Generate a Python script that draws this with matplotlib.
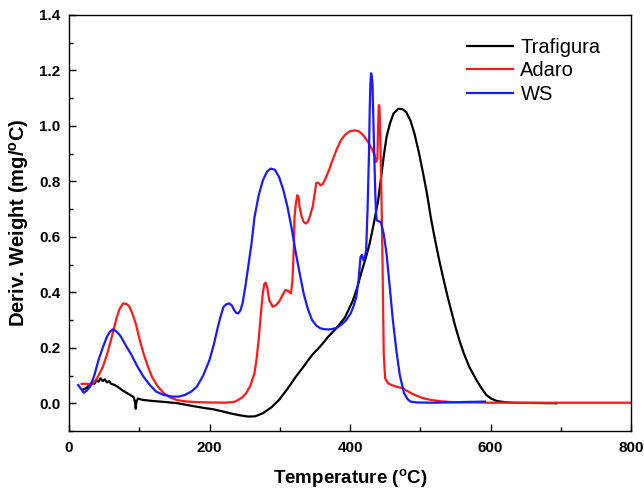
import matplotlib
matplotlib.use("Agg")
import matplotlib.pyplot as plt
from matplotlib.ticker import MultipleLocator, FormatStrFormatter

plt.rcParams['font.family'] = ['Liberation Sans', 'DejaVu Sans']
plt.rcParams['mathtext.fontset'] = 'custom'
plt.rcParams['mathtext.rm'] = 'Liberation Sans'
plt.rcParams['mathtext.bf'] = 'Liberation Sans:bold'

series_names = ["Trafigura", "Adaro", "WS"]
series_colors = ["#000000", "#ff1a1a", "#1a1aff"]

traf_x = [20, 25, 30, 33, 36, 39, 42, 45, 48, 51, 54, 57, 60, 65, 70, 77, 85, 92, 94, 95, 96, 98, 105, 120, 135,
          155, 176, 195, 206, 218, 229, 242, 255, 265, 276, 288, 299, 311, 323, 335, 346, 358, 369, 381, 393,
          404, 410, 416, 422, 428, 434, 440, 444, 448, 452, 457, 462, 469, 475, 480, 486, 492, 498, 504,
          510, 515, 521, 527, 533, 539, 545, 550, 556, 562, 570, 580, 587, 594, 601, 609, 620, 632, 660, 694]
traf_y = [0.050, 0.055, 0.068, 0.075, 0.070, 0.082, 0.078, 0.090, 0.080, 0.086, 0.075, 0.080, 0.070, 0.066, 0.058,
          0.045, 0.033, 0.022, 0.005, -0.020, 0.005, 0.017, 0.012, 0.008, 0.005,
          0.000, -0.010, -0.018, -0.022, -0.029, -0.036, -0.043, -0.048, -0.047, -0.036, -0.015, 0.012, 0.052,
          0.096, 0.136, 0.174, 0.206, 0.240, 0.272, 0.310,
          0.370, 0.415, 0.470, 0.520, 0.576, 0.650, 0.730, 0.810, 0.890, 0.960, 1.010, 1.045, 1.062, 1.060,
          1.050, 1.020, 0.970, 0.905, 0.830,
          0.750, 0.670, 0.590, 0.516, 0.448, 0.384, 0.325, 0.276, 0.225, 0.180, 0.130, 0.084, 0.055, 0.030, 0.017,
          0.008, 0.004, 0.002, 0.001, 0.000]

adaro_x = [18, 25, 33, 40, 48, 54, 60, 64, 68, 72, 77, 82, 86, 90, 95, 100, 106, 112, 118, 126, 135, 144, 153,
           165, 182, 200, 223, 235, 241, 247, 252, 258, 264, 267, 270, 273, 276, 278, 280, 282, 285, 290, 295,
           299, 304, 308, 312, 316, 318, 320, 321, 323, 325, 327, 328, 331, 334, 337, 340, 343, 347, 350, 352,
           355, 358, 361, 364, 370, 375, 381, 387, 393, 399, 407, 413, 419, 425, 431, 435, 437, 439, 440, 441,
           442, 444, 446, 447, 448, 450, 454, 460, 468, 475, 483, 492, 503, 515, 530, 545, 570, 600, 650, 700, 750, 800]
adaro_y = [0.070, 0.070, 0.068, 0.090, 0.130, 0.175, 0.230, 0.270, 0.310, 0.340, 0.360, 0.358, 0.348, 0.325, 0.288,
           0.235, 0.180, 0.135, 0.096, 0.062, 0.036, 0.021, 0.012,
           0.007, 0.004, 0.003, 0.002, 0.005, 0.012, 0.022, 0.036, 0.062, 0.108, 0.160, 0.230, 0.320, 0.400,
           0.430, 0.435, 0.420, 0.372, 0.348, 0.355,
           0.366, 0.390, 0.408, 0.405, 0.396, 0.440, 0.560, 0.670, 0.720, 0.750, 0.740, 0.710, 0.675, 0.654,
           0.648, 0.654, 0.675, 0.710, 0.760, 0.795,
           0.795, 0.786, 0.790, 0.804, 0.840, 0.876, 0.915, 0.948, 0.968, 0.980, 0.984, 0.980, 0.966, 0.945, 0.918,
           0.895, 0.870, 0.880, 1.000, 1.075,
           1.070, 0.850, 0.560, 0.370, 0.180, 0.090, 0.072, 0.065, 0.058, 0.054, 0.042, 0.030, 0.019, 0.012, 0.007,
           0.004, 0.003, 0.002, 0.002, 0.002, 0.002, 0.002]

ws_x = [13, 17, 21, 25, 30, 36, 42, 48, 54, 58, 62, 66, 70, 74, 80, 89, 97, 106, 115, 124, 135, 147, 156, 165, 174,
        182, 191, 200, 206, 212, 216, 220, 224, 228, 232, 235, 238, 241, 244, 247, 251, 255, 260, 264, 270, 276,
        282, 287, 293, 299, 305, 311, 317, 323, 329, 334, 340, 346, 352, 358, 364, 369, 375, 381, 387, 394,
        401, 405, 409, 412, 415, 417, 419, 421, 423, 425, 427, 428, 429, 430, 431, 432, 433, 434, 435, 436,
        437, 438, 441, 444, 448, 452, 457, 461, 466, 471, 477, 482, 486, 495, 515, 540, 570, 592]
ws_y = [0.066, 0.052, 0.038, 0.045, 0.060, 0.100, 0.156, 0.200, 0.240, 0.257, 0.266, 0.262, 0.252, 0.240, 0.212,
        0.174, 0.134, 0.096, 0.066, 0.042, 0.030, 0.024, 0.024, 0.030, 0.042,
        0.060, 0.100, 0.156, 0.210, 0.276, 0.315, 0.348, 0.357, 0.360, 0.352, 0.336, 0.326, 0.324, 0.335, 0.360,
        0.420, 0.490, 0.580, 0.670, 0.750, 0.804,
        0.836, 0.846, 0.842, 0.816, 0.770, 0.708, 0.630, 0.540, 0.460, 0.396, 0.340, 0.300, 0.280, 0.270, 0.267,
        0.266, 0.268, 0.272, 0.282, 0.298,
        0.324, 0.350, 0.384, 0.440, 0.528, 0.535, 0.516, 0.525, 0.552, 0.700, 0.900, 1.050, 1.150, 1.190, 1.180,
        1.150, 1.050, 0.950, 0.850, 0.760,
        0.690, 0.660, 0.656, 0.654, 0.610, 0.540, 0.408, 0.300, 0.190, 0.100, 0.036, 0.015, 0.006, 0.003, 0.002,
        0.003, 0.005, 0.006]

fig = plt.figure(figsize=(6.44, 4.90), dpi=100)
ax = fig.add_axes([69 / 644, 1 - 431 / 490, (631 - 69) / 644, (431 - 15) / 490])

for xs, ys, name, col in [(traf_x, traf_y, series_names[0], series_colors[0]),
                          (adaro_x, adaro_y, series_names[1], series_colors[1]),
                          (ws_x, ws_y, series_names[2], series_colors[2])]:
    ax.plot(xs, ys, color=col, lw=1.6, label=name)

ax.set_xlim(0, 800)
ax.set_ylim(-0.1, 1.4)
ax.xaxis.set_major_locator(MultipleLocator(200))
ax.xaxis.set_minor_locator(MultipleLocator(100))
ax.yaxis.set_major_locator(MultipleLocator(0.2))
ax.yaxis.set_minor_locator(MultipleLocator(0.1))
ax.tick_params(which='both', direction='in', width=1.0)
ax.tick_params(which='major', length=5, labelsize=11)
ax.tick_params(axis='x', which='major', pad=7)
ax.tick_params(axis='y', which='major', pad=6)
ax.tick_params(which='minor', length=3)
for lbl in ax.get_xticklabels() + ax.get_yticklabels():
    lbl.set_fontweight('bold')
ax.yaxis.set_major_formatter(FormatStrFormatter('%.1f'))
for s in ax.spines.values():
    s.set_linewidth(1.0)

ax.set_xlabel(r'Temperature ($^{\mathbf{o}}$C)', fontsize=13.5, fontweight='bold', labelpad=9)
ax.set_ylabel(r'Deriv. Weight (mg/$^{\mathbf{o}}$C)', fontsize=14.5, fontweight='bold', labelpad=6)

ax.legend(loc='upper left', frameon=False, fontsize=14.5, handlelength=2.3,
          bbox_to_anchor=(0.694, 0.964), borderaxespad=0, labelspacing=0.22, handletextpad=0.35)

fig.savefig('out.png', dpi=100)
